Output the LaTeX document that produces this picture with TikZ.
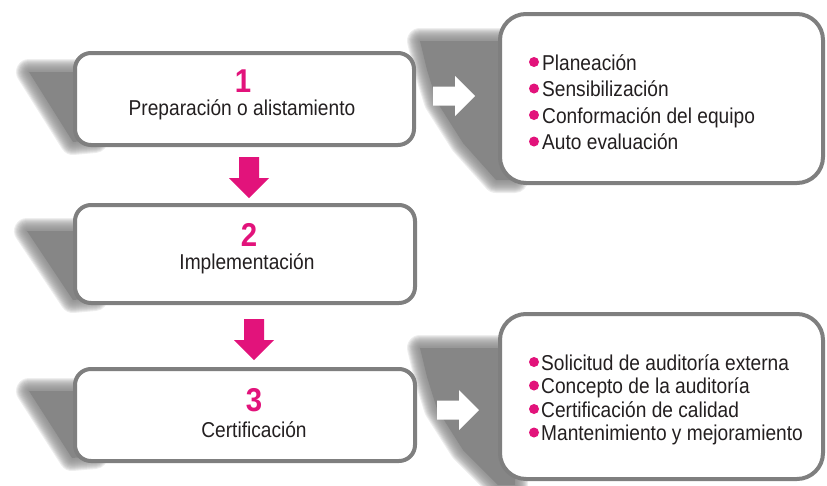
\documentclass[tikz,border=0pt]{standalone}
\usepackage{fontspec}
\setmainfont{Liberation Sans}[FakeStretch=0.89]
\definecolor{pinkA}{HTML}{E2137B}
\definecolor{boxgray}{HTML}{7F7F7F}
\definecolor{shadowgray}{HTML}{868686}
\definecolor{txt}{HTML}{231F20}
\newcommand\softpoly[1]{%
  \foreach \w in {26,24,22,20,18,16,14,12,10,8,6,4,2}{\draw[shadowgray,line width=\w pt,opacity=0.14,line join=round] #1;}%
  \fill[shadowgray] #1;}
\tikzset{
  stepbox/.style={draw=boxgray,line width=4pt,fill=white,rounded corners=16pt,inner sep=0pt},
  listbox/.style={draw=boxgray,line width=4pt,fill=white,rounded corners=26pt,inner sep=0pt},
  numtext/.style={text=pinkA,font=\fontsize{33}{33}\selectfont\bfseries,anchor=base,inner sep=0pt},
  steptext/.style={text=txt,font=\fontsize{21.5}{24}\selectfont,anchor=base,inner sep=0pt},
  itemtext/.style={text=txt,font=\fontsize{21.5}{24}\selectfont,anchor=base west,inner sep=0pt},
  bulletdot/.style={fill=pinkA},
  downarrow/.pic={\fill[pinkA] (-10,0) -- (10,0) -- (10,21) -- (20,21) -- (0,41) -- (-20,21) -- (-10,21) -- cycle;},
  rightarrow/.pic={\fill[white] (0,-9.5) -- (22,-9.5) -- (22,-20) -- (42,0) -- (22,20) -- (22,9.5) -- (0,9.5) -- cycle;}
}
\begin{document}
\begin{tikzpicture}[x=1pt,y=-1pt]
\useasboundingbox (0,0) rectangle (827,485);
% perspective shadows
\softpoly{(29,72) -- (95,72) -- (95,140) -- (73,142) -- cycle}
\softpoly{(27,231) -- (95,231) -- (95,298) -- (73,300) -- cycle}
\softpoly{(29,391) -- (95,391) -- (95,456) -- (72,458) -- cycle}
\softpoly{(420,41) -- (515,41) -- (515,180) -- (496,180) -- (463,143) -- (437,102) -- (427,70) -- cycle}
\softpoly{(420,348) -- (515,348) -- (515,485) -- (498,485) -- (463,450) -- (437,409) -- (427,377) -- cycle}
% boxes
\node[stepbox,minimum width=339pt,minimum height=92pt] (b1) at (244.5,99) {};
\node[stepbox,minimum width=340pt,minimum height=98pt] (b2) at (245,254) {};
\node[stepbox,minimum width=340pt,minimum height=92pt] (b3) at (245,415) {};
\node[listbox,minimum width=323pt,minimum height=169pt] (r1) at (661.5,98.5) {};
\node[listbox,minimum width=323pt,minimum height=165pt] (r2) at (661.5,396.5) {};
% step texts
\node[numtext] (n1) at (243,92) {1};
\node[steptext] (t1) at (242,115) {Preparación o alistamiento};
\node[numtext] (n2) at (249,246) {2};
\node[steptext] (t2) at (247,269) {Implementación};
\node[numtext] (n3) at (254,411) {3};
\node[steptext] (t3) at (254,437) {Certificación};
% arrows
\pic at (249,157) {downarrow};
\pic at (254,319) {downarrow};
\pic at (433,96) {rightarrow};
\pic at (437,410) {rightarrow};
% list 1
\foreach \y/\t [count=\i] in {70/Planeación,96.5/Sensibilización,123/Conformación del equipo,149.5/Auto evaluación}{
  \fill[bulletdot] (534,\y-8) circle (5);
  \node[itemtext] (a\i) at (542,\y) {\t};
}
% list 2
\foreach \y/\t [count=\i] in {370/Solicitud de auditoría externa,393.5/Concepto de la auditoría,417/Certificación de calidad,440.5/Mantenimiento y mejoramiento}{
  \fill[bulletdot] (534,\y-8) circle (5);
  \node[itemtext] (c\i) at (541,\y) {\t};
}
\end{tikzpicture}
\end{document}
